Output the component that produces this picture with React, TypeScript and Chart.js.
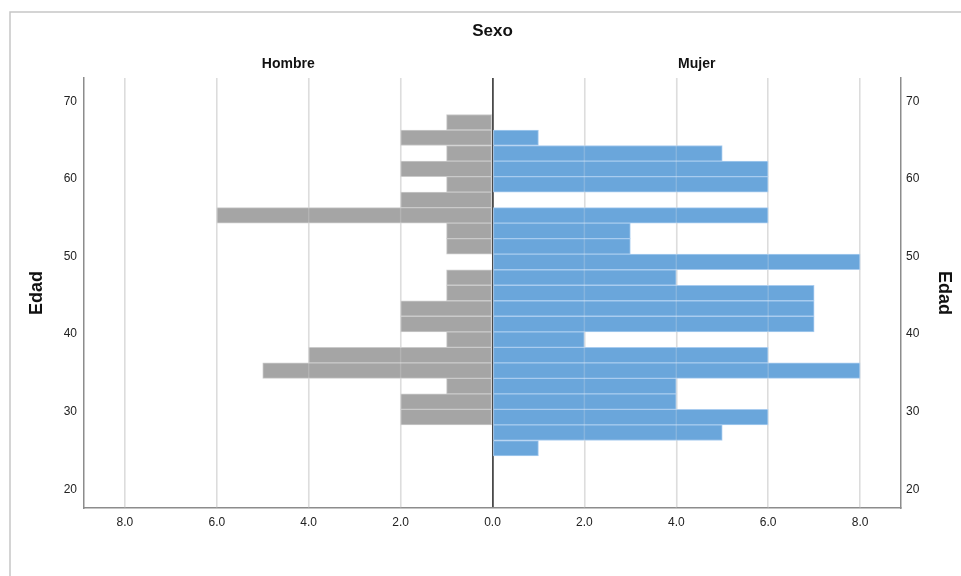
import React, { useEffect, useRef } from "react";
import { Chart, registerables } from "chart.js";

Chart.register(...registerables);

// Age bin centres (years), top to bottom
const ageBins = [67.3, 65.3, 63.3, 61.3, 59.3, 57.3, 55.3, 53.3, 51.3, 49.3, 47.3, 45.3, 43.3, 41.3, 39.3, 37.3, 35.3, 33.3, 31.3, 29.3, 27.3, 25.3];
const hombre = [1, 2, 1, 2, 1, 2, 6, 1, 1, 0, 1, 1, 2, 2, 1, 4, 5, 1, 2, 2, 0, 0];
const mujer = [0, 1, 5, 6, 6, 0, 6, 3, 3, 8, 4, 7, 7, 7, 2, 6, 8, 4, 4, 6, 5, 1];
const yTicks = [20, 30, 40, 50, 60, 70];
const xTicks = [-8, -6, -4, -2, 0, 2, 4, 6, 8];

const FONT = "'Liberation Sans', Arial, sans-serif";

export default function App() {
  const ref = useRef<HTMLCanvasElement | null>(null);

  useEffect(() => {
    const canvas = ref.current;
    if (!canvas) return;

    const overlay = {
      id: "overlay",
      beforeDraw(chart: any) {
        const ctx = chart.ctx;
        ctx.save();
        ctx.fillStyle = "#ffffff";
        ctx.fillRect(0, 0, chart.width, chart.height);
        ctx.strokeStyle = "#c6c6c6";
        ctx.lineWidth = 1.5;
        ctx.beginPath();
        ctx.moveTo(10, chart.height + 5);
        ctx.lineTo(10, 12);
        ctx.lineTo(chart.width + 5, 12);
        ctx.stroke();
        ctx.restore();
      },
      afterDatasetsDraw(chart: any) {
        const ctx = chart.ctx;
        const xs = chart.scales.x;
        const area = chart.chartArea;
        ctx.save();
        ctx.strokeStyle = "rgba(230,230,230,0.22)";
        ctx.lineWidth = 1.5;
        xTicks.forEach((v) => {
          if (v === 0) return;
          const px = xs.getPixelForValue(v);
          ctx.beginPath();
          ctx.moveTo(px, area.top);
          ctx.lineTo(px, area.bottom);
          ctx.stroke();
        });
        ctx.restore();
      },
      afterDraw(chart: any) {
        const ctx = chart.ctx;
        const area = chart.chartArea;
        const xs = chart.scales.x;
        const zero = xs.getPixelForValue(0);
        ctx.save();
        ctx.fillStyle = "#111111";
        ctx.textAlign = "center";
        ctx.textBaseline = "middle";
        ctx.font = `bold 17px ${FONT}`;
        ctx.fillText("Sexo", (area.left + area.right) / 2, 31);
        ctx.font = `bold 14px ${FONT}`;
        ctx.fillText("Hombre", (area.left + zero) / 2, 64);
        ctx.fillText("Mujer", (zero + area.right) / 2, 64);
        ctx.font = `bold 18px ${FONT}`;
        const midY = (area.top + area.bottom) / 2;
        ctx.save();
        ctx.translate(37.5, midY);
        ctx.rotate(-Math.PI / 2);
        ctx.fillText("Edad", 0, 0);
        ctx.restore();
        ctx.save();
        ctx.translate(943.5, midY);
        ctx.rotate(Math.PI / 2);
        ctx.fillText("Edad", 0, 0);
        ctx.restore();
        ctx.restore();
      },
    };

    const tickFont = { family: FONT, size: 12 };

    const chart = new Chart(canvas, {
      type: "bar",
      data: {
        datasets: [
          {
            label: "Hombre",
            data: ageBins.map((a, i) => ({ x: hombre[i] ? -hombre[i] : null, y: a })),
            backgroundColor: "#a5a5a5",
            borderColor: "#cacaca",
            borderWidth: 1,
            borderSkipped: false,
            grouped: false,
            barPercentage: 1,
            categoryPercentage: 1,
          } as any,
          {
            label: "Mujer",
            data: ageBins.map((a, i) => ({ x: mujer[i] ? mujer[i] : null, y: a })),
            backgroundColor: "#6aa6db",
            borderColor: "#a9ccef",
            borderWidth: 1,
            borderSkipped: false,
            grouped: false,
            barPercentage: 1,
            categoryPercentage: 1,
          } as any,
        ],
      },
      options: {
        indexAxis: "y",
        responsive: false,
        animation: false,
        devicePixelRatio: 1,
        layout: { padding: { top: 78, left: 0, right: 0, bottom: 0 } },
        plugins: {
          legend: { display: false },
          tooltip: { enabled: false },
          title: { display: false },
        },
        scales: {
          x: {
            type: "linear",
            min: -8.89,
            max: 8.89,
            offset: false,
            afterBuildTicks: (s: any) => {
              s.ticks = xTicks.map((v) => ({ value: v }));
            },
            afterFit: (s: any) => {
              s.height = 68;
            },
            ticks: {
              font: tickFont,
              color: "#222222",
              padding: 7,
              maxRotation: 0,
              autoSkip: false,
              callback: (v: any) => Math.abs(Number(v)).toFixed(1),
            },
            grid: {
              drawTicks: false,
              offset: false,
              color: (c: any) => (c.tick && c.tick.value === 0 ? "#4a4a4a" : "#dadada"),
              lineWidth: (c: any) => (c.tick && c.tick.value === 0 ? 1.8 : 1.5),
            },
            border: { display: true, color: "#8c8c8c", width: 1.5 },
          },
          y: {
            type: "linear",
            position: "left",
            min: 17.6,
            max: 73.0,
            offset: false,
            afterBuildTicks: (s: any) => {
              s.ticks = yTicks.map((v) => ({ value: v }));
            },
            afterFit: (s: any) => {
              s.width = 84;
            },
            ticks: { font: tickFont, color: "#222222", padding: 7, autoSkip: false },
            grid: { display: false, drawTicks: false, offset: false },
            border: { display: true, color: "#8c8c8c", width: 1.5 },
          },
          y2: {
            type: "linear",
            position: "right",
            min: 17.6,
            max: 73.0,
            offset: false,
            afterBuildTicks: (s: any) => {
              s.ticks = yTicks.map((v) => ({ value: v }));
            },
            afterFit: (s: any) => {
              s.width = 60;
            },
            ticks: { font: tickFont, color: "#222222", padding: 5, autoSkip: false },
            grid: { display: false, drawTicks: false, offset: false },
            border: { display: true, color: "#8c8c8c", width: 1.5 },
          },
        },
      } as any,
      plugins: [overlay],
    });

    return () => chart.destroy();
  }, []);

  return (
    <div style={{ position: "fixed", left: 0, top: 0, width: 961, height: 576, background: "#fff" }}>
      <canvas ref={ref} width={961} height={576} style={{ display: "block", width: 961, height: 576 }} />
    </div>
  );
}
